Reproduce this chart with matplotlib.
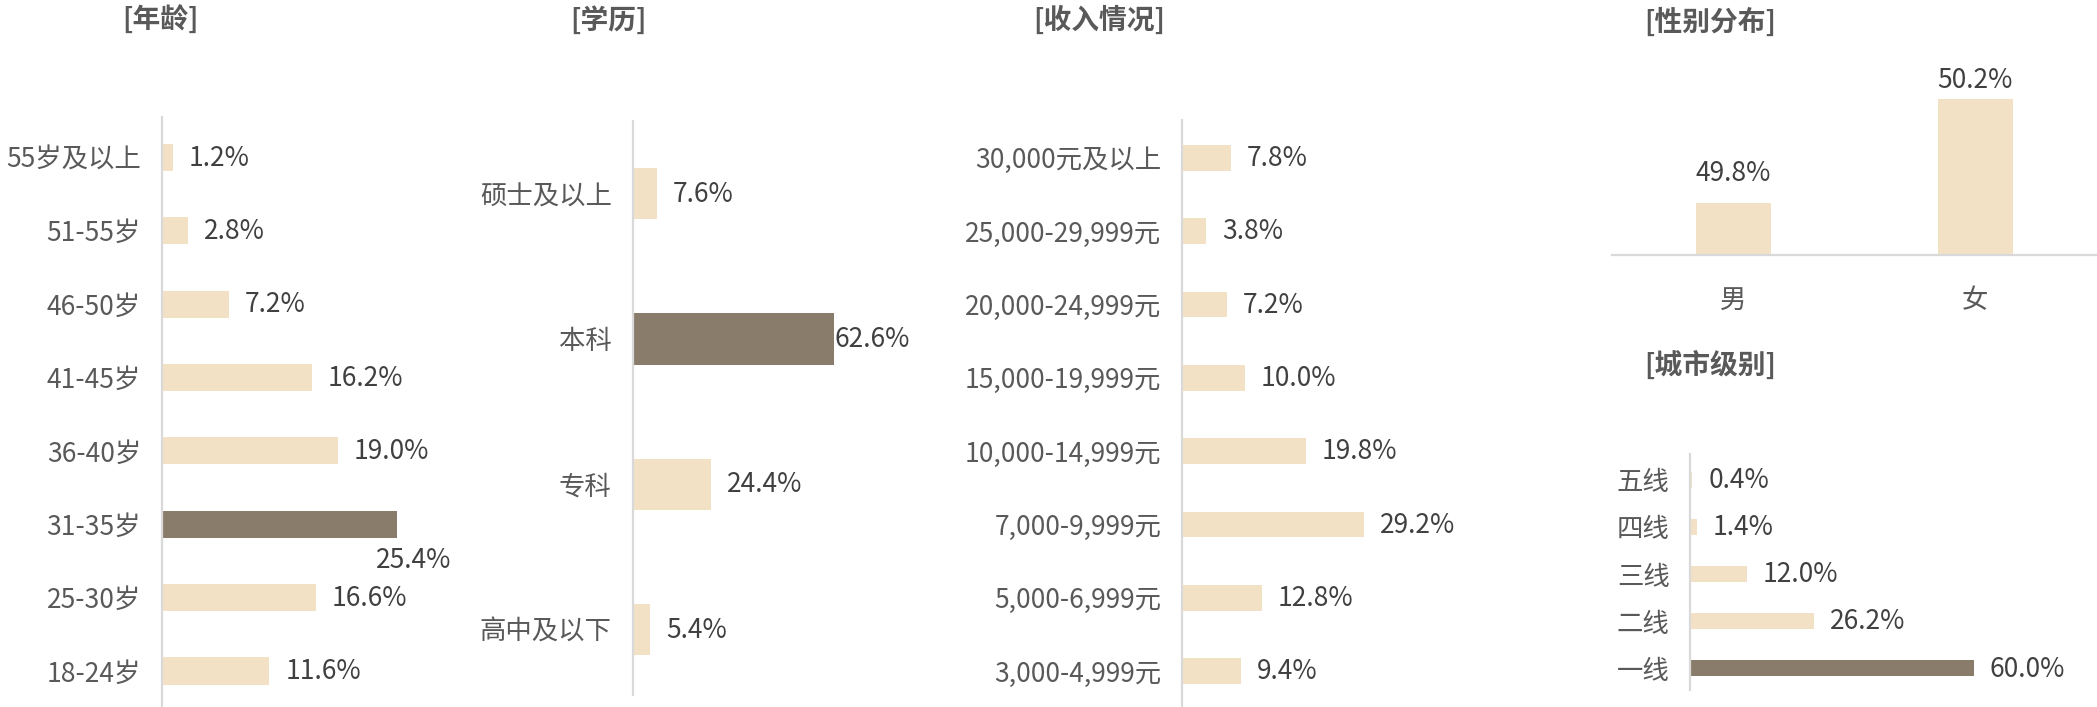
import matplotlib
matplotlib.use("Agg")
import matplotlib.pyplot as plt

plt.rcParams['font.family'] = ['Noto Sans CJK SC', 'DejaVu Sans']

# data
age_labels = ['18-24岁', '25-30岁', '31-35岁', '36-40岁', '41-45岁', '46-50岁', '51-55岁', '55岁及以上']
age_values = [11.6, 16.6, 25.4, 19.0, 16.2, 7.2, 2.8, 1.2]

edu_labels = ['高中及以下', '专科', '本科', '硕士及以上']
edu_values = [5.4, 24.4, 62.6, 7.6]

income_labels = ['3,000-4,999元', '5,000-6,999元', '7,000-9,999元', '10,000-14,999元',
                 '15,000-19,999元', '20,000-24,999元', '25,000-29,999元', '30,000元及以上']
income_values = [9.4, 12.8, 29.2, 19.8, 10.0, 7.2, 3.8, 7.8]

gender_labels = ['男', '女']
gender_values = [49.8, 50.2]

city_labels = ['一线', '二线', '三线', '四线', '五线']
city_values = [60.0, 26.2, 12.0, 1.4, 0.4]

LIGHT = '#F2E1C5'
DARK = '#8A7C6A'
AXIS = '#D9D9D9'
CAT = '#595959'
VAL = '#404040'
FS = 19

W, H = 1568.0, 529.0  # layout measured on the reference at this size


def box(x0, y_top, x1, y_bot):
    return [x0 / W, 1 - y_bot / H, (x1 - x0) / W, (y_bot - y_top) / H]


fig = plt.figure(figsize=(20.97, 7.07), dpi=100)


def hbar_panel(rect, labels, values, xmax, ylim, height, dark_idx, pad=11.5, special=None):
    ax = fig.add_axes(rect)
    colors = [DARK if i == dark_idx else LIGHT for i in range(len(values))]
    ax.barh(range(len(values)), values, height=height, color=colors)
    ax.set_xlim(0, xmax)
    ax.set_ylim(*ylim)
    ax.set_yticks(range(len(values)))
    ax.set_yticklabels(labels, fontsize=FS, color=CAT)
    ax.tick_params(axis='y', length=0, pad=15)
    ax.set_xticks([])
    for s in ['top', 'right', 'bottom']:
        ax.spines[s].set_visible(False)
    ax.spines['left'].set_color(AXIS)
    ax.spines['left'].set_linewidth(1.6)
    for i, v in enumerate(values):
        if special and i in special:
            dx, dy, ha = special[i]
        else:
            dx, dy, ha = pad, -0.5, 'left'
        ax.annotate(f'{v:.1f}%', (v, i), xytext=(dx, dy), textcoords='offset points',
                    ha=ha, va='center', fontsize=FS, color=VAL)
    return ax


# 年龄
hbar_panel(box(121, 87.5, 329, 529), age_labels, age_values, 30, (-0.49, 7.55), 0.37, 2,
           special={2: (11.5, -26, 'center')})
# 学历
hbar_panel(box(473, 90.5, 641, 520), edu_labels, edu_values, 70, (-0.45, 3.5), 0.354, 2,
           special={2: (0.5, -0.5, 'left')})
# 收入情况
hbar_panel(box(884, 90, 1070.4, 529), income_labels, income_values, 40, (-0.49, 7.51), 0.35, -1)
# 城市级别
hbar_panel(box(1264, 340, 1511, 516), city_labels, city_values, 70, (-0.45, 4.54), 0.34, 0)

# 性别分布
axg = fig.add_axes(box(1205, 40, 1568, 191))
axg.bar(range(2), gender_values, width=0.31, color=LIGHT)
axg.set_xlim(-0.503, 1.503)
axg.set_ylim(49.6, 50.374)
axg.set_xticks(range(2))
axg.set_xticklabels(gender_labels, fontsize=FS, color=CAT)
axg.tick_params(axis='x', length=0, pad=23)
axg.set_yticks([])
for s in ['top', 'right', 'left']:
    axg.spines[s].set_visible(False)
axg.spines['bottom'].set_color(AXIS)
axg.spines['bottom'].set_linewidth(1.6)
for i, (v, off) in enumerate(zip(gender_values, [21.5, 13.5])):
    axg.annotate(f'{v:.1f}%', (i, v), xytext=(0, off), textcoords='offset points',
                 ha='center', va='center', fontsize=FS, color=VAL)

# titles
for txt, x, y in [('[年龄]', 120, 15), ('[学历]', 455, 15), ('[收入情况]', 822, 15),
                  ('[性别分布]', 1279, 17), ('[城市级别]', 1279, 273)]:
    fig.text(x / W, 1 - y / H, txt, ha='center', va='center', fontsize=20,
             color=CAT, fontweight='bold')

fig.savefig('out.png', dpi=100)
